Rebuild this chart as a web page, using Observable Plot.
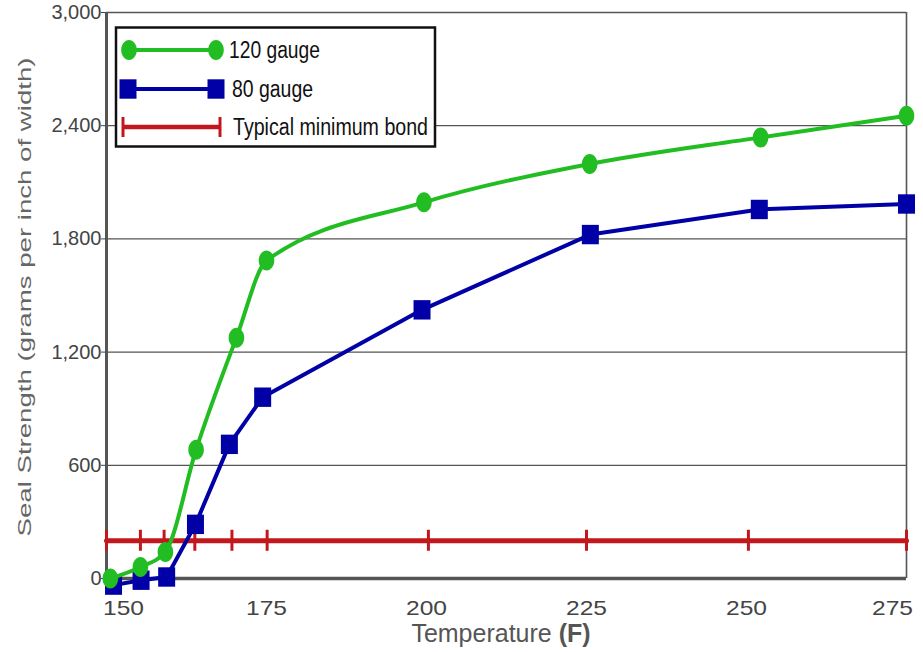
<!DOCTYPE html>
<html><head><meta charset="utf-8">
<script src="https://cdn.jsdelivr.net/npm/d3@7"></script>
<script src="https://cdn.jsdelivr.net/npm/@observablehq/plot@0.6"></script>
<style>
body{margin:0;background:#fff;}
#wrap{position:relative;width:923px;height:652px;font-family:"Liberation Sans",Arial,sans-serif;}
</style></head><body><div id="wrap"></div>
<script>
// ---- data ----
const temps120 = [150.6, 155.3, 159.2, 164, 170.3, 175, 199.6, 225.5, 252.2, 275];
const gauge120 = [0, 61, 141, 683, 1276, 1685, 1994, 2197, 2338, 2453];
const temps80  = [151.1, 155.4, 159.4, 163.9, 169.2, 174.4, 199.3, 225.6, 252, 275];
const gauge80  = [-35, -9, 8, 287, 711, 961, 1424, 1823, 1956, 1985];
const bondTemps = [150, 155.3, 159, 163.8, 169.6, 175.1, 200.3, 225, 250.3, 275];
const bondValue = 200;
const xTicks = [150, 175, 200, 225, 250, 275];
const yTicks = [0, 600, 1200, 1800, 2400, 3000];
const seriesNames = ["120 gauge", "80 gauge", "Typical minimum bond"];
const xLabel = "Temperature ";
const xLabelBold = "(F)";
const yLabel = "Seal Strength (grams per inch of width)";

const green = "#22bd22", blue = "#0000a6", red = "#c2181d";

const t120 = temps120.map((t, i) => ({t, v: gauge120[i]}));
const t80 = temps80.map((t, i) => ({t, v: gauge80[i]}));
const tBond = bondTemps.map(t => ({t, v: bondValue}));

const ellipse = {draw(ctx) {
  const rx = 7.8, ry = 10, k = 0.5523;
  ctx.moveTo(rx, 0);
  ctx.bezierCurveTo(rx, ry * k, rx * k, ry, 0, ry);
  ctx.bezierCurveTo(-rx * k, ry, -rx, ry * k, -rx, 0);
  ctx.bezierCurveTo(-rx, -ry * k, -rx * k, -ry, 0, -ry);
  ctx.bezierCurveTo(rx * k, -ry, rx, -ry * k, rx, 0);
  ctx.closePath();
}};
const box = {draw(ctx) { ctx.rect(-8.5, -9.7, 17, 19.4); }};

const font = '"Liberation Sans", Arial, sans-serif';

const chart = Plot.plot({
  width: 923, height: 652,
  marginLeft: 106, marginRight: 17, marginTop: 12, marginBottom: 74,
  style: {fontFamily: font, background: "#fff"},
  x: {domain: [150, 275]},
  y: {domain: [0, 3000]},
  marks: [
    Plot.gridY(yTicks, {stroke: "#555", strokeOpacity: 1, strokeWidth: 1.3}),
    Plot.ruleX([275], {stroke: "#555", strokeWidth: 1.6}),
    Plot.ruleX([150], {stroke: "#555", strokeWidth: 3}),
    Plot.ruleY([0], {stroke: "#555", strokeWidth: 3.5}),
    Plot.axisY(yTicks, {tickFormat: d3.format(","), tickSize: 5, tickPadding: 0, fontSize: 20, color: "#444", label: null}),
    Plot.axisX([150], {tickSize: 0, tickPadding: 22, fontSize: 21, color: "#444", dx: 17, label: null}),
    Plot.axisX([175, 200, 225, 250], {tickSize: 0, tickPadding: 22, fontSize: 21, color: "#444", label: null}),
    Plot.axisX([275], {tickSize: 0, tickPadding: 22, fontSize: 21, color: "#444", dx: -14, label: null}),
    Plot.line(tBond, {x: "t", y: "v", stroke: red, strokeWidth: 5}),
    Plot.ruleX(tBond, {x: "t", y1: "v", y2: "v", insetTop: -10.5, insetBottom: -10.5, stroke: red, strokeWidth: 3}),
    Plot.line(t80, {x: "t", y: "v", stroke: blue, strokeWidth: 4, curve: "linear"}),
    Plot.dot(t80, {x: "t", y: "v", symbol: box, fill: blue, stroke: "none"}),
    Plot.line(t120, {x: "t", y: "v", stroke: green, strokeWidth: 4, curve: "monotone-x"}),
    Plot.dot(t120, {x: "t", y: "v", symbol: ellipse, fill: green, stroke: "none"})
  ]
});
document.getElementById("wrap").appendChild(chart);

const svg = d3.select(chart);
// widen x tick labels like the reference
svg.selectAll('g[aria-label="x-axis tick label"] text')
  .attr("textLength", 41).attr("lengthAdjust", "spacingAndGlyphs");

// ---- axis titles ----
const xt = svg.append("text")
  .attr("x", 501).attr("y", 642).attr("text-anchor", "middle")
  .attr("font-family", font).attr("font-size", 25).attr("fill", "#555");
xt.append("tspan").text(xLabel);
xt.append("tspan").attr("font-weight", "bold").text(xLabelBold);

svg.append("text")
  .attr("transform", "translate(31,297) rotate(-90)")
  .attr("text-anchor", "middle")
  .attr("font-family", font).attr("font-size", 19).attr("fill", "#666")
  .attr("textLength", 479).attr("lengthAdjust", "spacingAndGlyphs")
  .text(yLabel);

// ---- legend (inside plot area, top-left) ----
const lg = svg.append("g").attr("text-anchor", "start");
lg.append("rect").attr("x", 116).attr("y", 27.5).attr("width", 319).attr("height", 119)
  .attr("fill", "#fff").attr("stroke", "#111").attr("stroke-width", 2.5);
const rows = [
  {y: 50, color: green, sym: ellipse, x1: 129, x2: 216, tx: 229, tw: 91},
  {y: 89, color: blue, sym: box, x1: 128, x2: 216, tx: 232, tw: 81},
  {y: 127, color: red, sym: null, x1: 123, x2: 220, tx: 233, tw: 195}
];
rows.forEach((r, i) => {
  lg.append("line").attr("x1", r.x1).attr("x2", r.x2).attr("y1", r.y).attr("y2", r.y)
    .attr("stroke", r.color).attr("stroke-width", i === 2 ? 4.5 : 4);
  if (r.sym) {
    [r.x1, r.x2].forEach(x => lg.append("path").attr("d", d3.symbol(r.sym)()).attr("transform", `translate(${x},${r.y})`).attr("fill", r.color));
  } else {
    [r.x1, r.x2].forEach(x => lg.append("line").attr("x1", x).attr("x2", x).attr("y1", r.y - 10).attr("y2", r.y + 10).attr("stroke", r.color).attr("stroke-width", 3));
  }
  lg.append("text").attr("x", r.tx).attr("y", r.y + 8).attr("text-anchor", "start")
    .attr("font-family", font).attr("font-size", 23)
    .attr("fill", "#111").attr("textLength", r.tw).attr("lengthAdjust", "spacingAndGlyphs").text(seriesNames[i]);
});
</script></body></html>
